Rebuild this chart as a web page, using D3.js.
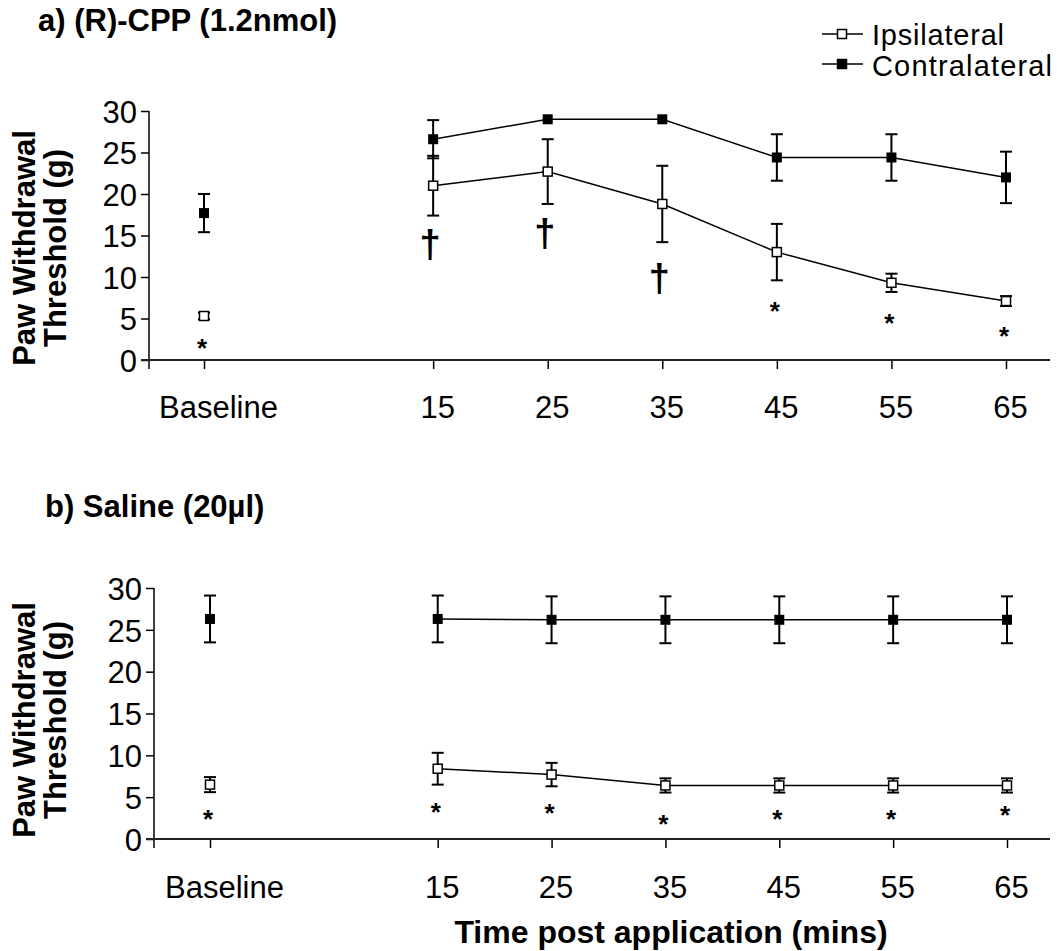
<!DOCTYPE html>
<html>
<head>
<meta charset="utf-8">
<title>Paw withdrawal threshold</title>
<script src="https://d3js.org/d3.v7.min.js"></script>
<style>
  body { margin: 0; background: #fff; }
  svg text { font-family: "Liberation Sans", Arial, sans-serif; fill: #000; }
</style>
</head>
<body>
<div id="chart"></div>
<script>
// categories on the x axis ("" is the empty slot between Baseline and 15)
var categories = ["Baseline", "", "15", "25", "35", "45", "55", "65"];
var timeLabels = ["Baseline", "15", "25", "35", "45", "55", "65"];
var yTicks = [0, 5, 10, 15, 20, 25, 30];

// a) (R)-CPP
var ipsiA      = [5.3, 21.0, 22.7, 18.8, 13.0, 9.3, 7.1];
var ipsiAErr   = [0.4, 3.6, 3.9, 4.6, 3.4, 1.1, 0.6];
var contraA    = [17.7, 26.6, 29.0, 29.0, 24.4, 24.4, 22.0];
var contraAErr = [2.3, 2.3, 0, 0, 2.8, 2.8, 3.1];
var daggersA   = [["15", 13.6], ["25", 14.9], ["35", 9.5]];
var starsA     = [["Baseline", 2.2], ["45", 6.6], ["55", 5.2], ["65", 3.65]];

// b) Saline
var ipsiB      = [6.5, 8.4, 7.7, 6.4, 6.4, 6.4, 6.4];
var ipsiBErr   = [0.9, 1.9, 1.4, 0.85, 0.85, 0.85, 0.85];
var contraB    = [26.3, 26.3, 26.2, 26.2, 26.2, 26.2, 26.2];
var contraBErr = [2.8, 2.8, 2.8, 2.8, 2.8, 2.8, 2.8];
var daggersB   = [];
var starsB     = [["Baseline", 3.1], ["15", 3.9], ["25", 3.85], ["35", 2.5], ["45", 3.05], ["55", 3.05], ["65", 3.6]];

var svg = d3.select("#chart").append("svg")
    .attr("width", 1057).attr("height", 951);

function panel(opt) {
    var g = svg.append("g");
    var x = d3.scalePoint().domain(categories).range([opt.x0, opt.x1]);
    var y = d3.scaleLinear().domain([0, 30]).range([opt.yb, opt.yt]);

    // title
    g.append("text").attr("x", opt.titleX).attr("y", opt.titleY)
        .attr("font-size", 31).attr("font-weight", "bold").text(opt.title);

    // y axis label
    var lab = g.append("text")
        .attr("transform", "translate(0," + opt.labelCy + ") rotate(-90)")
        .attr("text-anchor", "middle").attr("font-size", 31).attr("font-weight", "bold");
    lab.append("tspan").attr("x", 0).attr("y", 35).text("Paw Withdrawal");
    lab.append("tspan").attr("x", 0).attr("y", 66).text("Threshold (g)");

    // y axis
    var ya = g.append("g").attr("transform", "translate(" + opt.axisX + ",0)")
        .call(d3.axisLeft(y).tickValues(yTicks).tickSize(8).tickPadding(4).tickSizeOuter(0));
    ya.select(".domain").remove();
    ya.selectAll("line").attr("stroke", "#000").attr("stroke-width", 1.5);
    ya.selectAll("text").attr("font-size", 31).attr("dy", "0.36em");
    g.append("line").attr("x1", opt.axisX).attr("x2", opt.axisX)
        .attr("y1", opt.yt).attr("y2", opt.yb + 9)
        .attr("stroke", "#000").attr("stroke-width", 1.5);

    // x axis
    var xa = g.append("g").attr("transform", "translate(0," + opt.yb + ")")
        .call(d3.axisBottom(x).tickValues(timeLabels).tickSize(9).tickPadding(opt.xPad));
    xa.select(".domain").remove();
    xa.selectAll("line").attr("stroke", "#000").attr("stroke-width", 1.5);
    xa.selectAll("text").attr("font-size", 31)
        .attr("dx", function(d) { return d === "Baseline" ? 14 : 4; });
    g.append("line").attr("x1", opt.axisX - 8).attr("x2", 1050)
        .attr("y1", opt.yb).attr("y2", opt.yb)
        .attr("stroke", "#222").attr("stroke-width", 2);

    var line = d3.line().x(function(d) { return x(d.t); }).y(function(d) { return y(d.v); });

    function series(vals, errs) {
        var pts = timeLabels.map(function(t, i) { return {t: t, v: vals[i], e: errs[i]}; });
        g.append("path").datum(pts.slice(1)).attr("d", line)
            .attr("fill", "none").attr("stroke", "#000").attr("stroke-width", 1.5);
        var eb = g.append("g");
        pts.filter(function(d) { return d.e > 0; }).forEach(function(d) {
            var cx = x(d.t);
            eb.append("line").attr("x1", cx).attr("x2", cx)
                .attr("y1", y(d.v + d.e)).attr("y2", y(d.v - d.e));
            eb.append("line").attr("x1", cx - 6).attr("x2", cx + 6)
                .attr("y1", y(d.v + d.e)).attr("y2", y(d.v + d.e));
            eb.append("line").attr("x1", cx - 6).attr("x2", cx + 6)
                .attr("y1", y(d.v - d.e)).attr("y2", y(d.v - d.e));
        });
        eb.selectAll("line").attr("stroke", "#000").attr("stroke-width", 2);
        return pts;
    }
    var ip = series(opt.ipsi, opt.ipsiErr);
    var co = series(opt.contra, opt.contraErr);

    g.selectAll(".mc").data(co).enter().append("rect")
        .attr("x", function(d) { return x(d.t) - 5; })
        .attr("y", function(d) { return y(d.v) - 5; })
        .attr("width", 10).attr("height", 10).attr("fill", "#000");
    g.selectAll(".mi").data(ip).enter().append("rect")
        .attr("x", function(d) { return x(d.t) - 4.5; })
        .attr("y", function(d) { return y(d.v) - 4.5; })
        .attr("width", 9).attr("height", 9)
        .attr("fill", "#fff").attr("stroke", "#000").attr("stroke-width", 1.5);

    // significance marks
    opt.daggers.forEach(function(d) {
        g.append("text").attr("x", x(d[0]) - 3).attr("y", y(d[1]) + 10)
            .attr("text-anchor", "middle").attr("font-size", 38).attr("font-weight", "bold")
            .text("\u2020");
    });
    opt.stars.forEach(function(d) {
        g.append("text").attr("x", x(d[0]) - 2).attr("y", y(d[1]) + 15)
            .attr("text-anchor", "middle").attr("font-size", 26).attr("font-weight", "bold")
            .text("*");
    });
}

panel({title: "a) (R)-CPP (1.2nmol)", titleX: 38, titleY: 31,
       x0: 204, x1: 1006, yb: 360, yt: 111, axisX: 149, xPad: 27, labelCy: 248,
       ipsi: ipsiA, ipsiErr: ipsiAErr, contra: contraA, contraErr: contraAErr,
       daggers: daggersA, stars: starsA});

panel({title: "b) Saline (20\u00b5l)", titleX: 45, titleY: 517,
       x0: 210, x1: 1007, yb: 839, yt: 588, axisX: 154, xPad: 28, labelCy: 720,
       ipsi: ipsiB, ipsiErr: ipsiBErr, contra: contraB, contraErr: contraBErr,
       daggers: daggersB, stars: starsB});

// legend
var legend = svg.append("g");
[["Ipsilateral", 34, false, 45], ["Contralateral", 64, true, 76]].forEach(function(d) {
    legend.append("line").attr("x1", 822).attr("x2", 863).attr("y1", d[1]).attr("y2", d[1])
        .attr("stroke", "#000").attr("stroke-width", 1.5);
    legend.append("rect").attr("x", 842 - 4.5).attr("y", d[1] - 4.5).attr("width", 9).attr("height", 9)
        .attr("fill", d[2] ? "#000" : "#fff").attr("stroke", "#000").attr("stroke-width", 1.5);
    legend.append("text").attr("x", 872).attr("y", d[3]).attr("font-size", 29)
        .attr("textLength", d[0] === "Ipsilateral" ? 132 : 180).text(d[0]);
});

// x axis title
svg.append("text").attr("x", 671).attr("y", 943).attr("text-anchor", "middle")
    .attr("font-size", 32).attr("font-weight", "bold").text("Time post application (mins)");
</script>
</body>
</html>
